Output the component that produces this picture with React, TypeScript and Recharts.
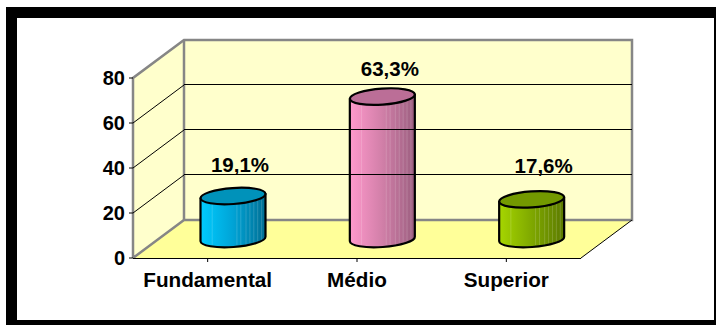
import { Bar, BarChart, LabelList, ReferenceArea, ReferenceLine, XAxis, YAxis } from 'recharts';

const categories = ['Fundamental', 'Médio', 'Superior'];
const shares = [19.1, 63.3, 17.6];
const shareLabels = ['19,1%', '63,3%', '17,6%'];
const yTicks = [0, 20, 40, 60, 80];
const gridValues = [20, 40, 60];

const data = categories.map((name, i) => ({ name, share: shares[i], label: shareLabels[i] }));

// depth of the fake 3D box, in pixels
const DEPTH_X = 51;
const DEPTH_Y = 38;
const TILT = -4;
const ELLIPSE_RY = 8;

const WALL = '#ffffcc';
const FLOOR = '#ffff99';
const EDGE = '#868686';

const bodyColors = [
  ['#00ccff', '#00a3d6', '#006f94'],
  ['#ff99cc', '#d17fa8', '#9c5f80'],
  ['#a6d600', '#7fa800', '#5c7a00'],
];
const capColors = ['#0092ba', '#bb6e97', '#739900'];
const stripes = [0.18, 0.56, 0.62, 0.7, 0.76, 0.82, 0.88, 0.94];
// small sideways / vertical shifts of the percentage labels
const labelShift = [
  [7, -32],
  [7.5, -28],
  [12, -34],
];

function Walls({ x, y, width, height }: any) {
  const bx = x + DEPTH_X;
  const by = y - DEPTH_Y;
  return (
    <g>
      <polygon
        points={`${x},${y} ${bx},${by} ${bx},${by + height} ${x},${y + height}`}
        fill={WALL}
      />
      <rect x={bx} y={by} width={width} height={height} fill={WALL} />
      <polygon
        points={`${x},${y + height} ${bx},${by + height} ${bx + width},${by + height} ${x + width},${y + height}`}
        fill={FLOOR}
      />
      <polyline
        points={`${x},${y + height} ${bx},${by + height} ${bx + width},${by + height} ${bx + width},${by} ${bx},${by} ${x},${y} ${x},${y + height}`}
        fill="none"
        stroke={EDGE}
        strokeWidth={2.5}
      />
      <line x1={bx} y1={by} x2={bx} y2={by + height} stroke={EDGE} strokeWidth={2.5} />
      <line x1={x + width} y1={y + height} x2={bx + width} y2={by + height} stroke="#000" />
      <line x1={x} y1={y + height + 0.5} x2={x + width} y2={y + height + 0.5} stroke="#000" />
    </g>
  );
}

// gridline running across the side wall and on along the back wall
function WallLine({ x1, y1, x2, y2 }: any) {
  return (
    <g stroke="#000" fill="none">
      <line x1={x1} y1={y1} x2={x1 + DEPTH_X} y2={y1 - DEPTH_Y} />
      <line x1={x1 + DEPTH_X} y1={y1 - DEPTH_Y - 0.5} x2={x2 + DEPTH_X} y2={y2 - DEPTH_Y - 0.5} />
    </g>
  );
}

function Cylinder({ x, y, width, height, index }: any) {
  const cx = x + width / 2 + DEPTH_X / 2;
  const top = y - DEPTH_Y / 2;
  const bottom = top + height;
  const rx = width / 2;
  const dy = rx * Math.sin((-TILT * Math.PI) / 180);
  const left = cx - rx;
  const right = cx + rx;
  const id = `body-${index}`;
  const body = `M${left},${top + dy} L${left},${bottom + dy} A${rx},${ELLIPSE_RY} ${TILT} 0 0 ${right},${bottom - dy} L${right},${top - dy} Z`;
  return (
    <g>
      <defs>
        <linearGradient id={id} x1="0" x2="1" y1="0" y2="0">
          <stop offset="0" stopColor={bodyColors[index][0]} />
          <stop offset="0.5" stopColor={bodyColors[index][1]} />
          <stop offset="1" stopColor={bodyColors[index][2]} />
        </linearGradient>
      </defs>
      <path d={body} fill={`url(#${id})`} />
      {stripes.map((s) => (
        <line
          key={s}
          x1={left + s * width}
          x2={left + s * width}
          y1={top + 4}
          y2={bottom + 6}
          stroke="#fff"
          strokeOpacity={0.16}
        />
      ))}
      <path d={body} fill="none" stroke="#000" strokeWidth={2.2} strokeLinejoin="round" />
      <ellipse
        cx={cx}
        cy={top}
        rx={rx}
        ry={ELLIPSE_RY}
        transform={`rotate(${TILT} ${cx} ${top})`}
        fill={capColors[index]}
        stroke="#000"
        strokeWidth={2.2}
      />
    </g>
  );
}

function ShareLabel({ x, y, width, value, index }: any) {
  const [sx, sy] = labelShift[index];
  return (
    <text
      x={x + width / 2 + DEPTH_X / 2 + sx}
      y={y - DEPTH_Y / 2 + sy}
      textAnchor="middle"
      dominantBaseline="central"
      fontFamily="Liberation Sans"
      fontWeight="bold"
      fontSize={20.5}
      fill="#000"
    >
      {value}
    </text>
  );
}

function App() {
  return (
    <div
      style={{
        position: 'absolute',
        left: 0,
        top: 0,
        width: 716,
        height: 325,
        background: '#fff',
      }}
    >
      <div
        style={{
          position: 'absolute',
          left: 6,
          top: 7,
          width: 710,
          height: 318,
          boxSizing: 'border-box',
          borderStyle: 'solid',
          borderColor: '#000',
          borderWidth: '11px 2px 5px 11px',
        }}
      />
      <div style={{ position: 'absolute', left: 0, top: 0 }}>
        <BarChart
          width={716}
          height={325}
          data={data}
          margin={{ top: 78, right: 135, bottom: 37, left: 93 }}
          barSize={65}
        >
          <XAxis
            dataKey="name"
            height={30}
            axisLine={false}
            tickLine={{ stroke: '#000' }}
            tickSize={4}
            tickMargin={10}
            interval={0}
            tick={{ fill: '#000', fontFamily: 'Liberation Sans', fontWeight: 'bold', fontSize: 20.7 }}
          />
          <YAxis
            width={40}
            domain={[0, 80]}
            ticks={yTicks}
            axisLine={false}
            tickLine={{ stroke: '#000' }}
            tickSize={4}
            tickMargin={4}
            tick={{ fill: '#000', fontFamily: 'Liberation Sans', fontWeight: 'bold', fontSize: 20 }}
          />
          <ReferenceArea y1={0} y2={80} shape={Walls} />
          {gridValues.map((v) => (
            <ReferenceLine key={v} y={v} shape={WallLine} />
          ))}
          <Bar dataKey="share" isAnimationActive={false} shape={Cylinder}>
            <LabelList dataKey="label" content={ShareLabel} />
          </Bar>
        </BarChart>
      </div>
    </div>
  );
}

export default App;
